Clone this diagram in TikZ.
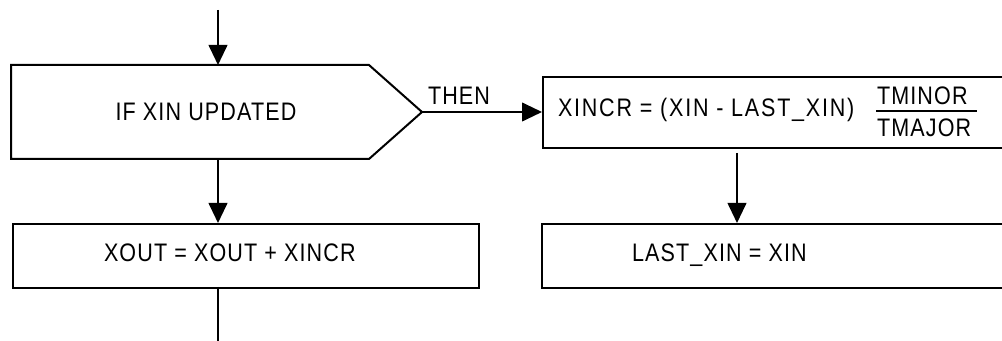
\documentclass[tikz,border=0pt]{standalone}
\usepackage{fontspec}
\setmainfont{Liberation Sans}[FakeStretch=0.85, LetterSpace=4.5]
\usetikzlibrary{arrows.meta,positioning,calc}

\begin{document}
\begin{tikzpicture}[x=0.75pt, y=-0.75pt, line width=1.5pt,
  font=\fontsize{19}{23}\selectfont,
  procbox/.style={draw, rectangle, inner sep=0pt, anchor=north west},
  lbl/.style={inner sep=0pt, anchor=base west},
  flow/.style={-{Triangle[length=15pt, width=14pt]}}]
\useasboundingbox (0,0) rectangle (1002,341);
% decision
\draw[line join=miter] (11,65) -- (369,65) -- (422,112) coordinate (dtip)
  -- (369,159) -- (11,159) -- cycle;
\coordinate (start) at (218,10);
\coordinate (dtop) at (218,65);
\coordinate (dbot) at (218,159);
\node[inner sep=0pt] (ifxin) at (206,112) {IF XIN UPDATED};
% boxes
\node[procbox, minimum width=352.5pt, minimum height=53.25pt] (xincr) at (542,76) {};
\node[procbox, minimum width=349.5pt, minimum height=48pt] (xout) at (12,223) {};
\node[procbox, minimum width=352.5pt, minimum height=48pt] (lastxin) at (541,223) {};
% texts
\node[lbl] (then) at (427,105) {THEN};
\node[lbl, font=\fontsize{19}{23}\selectfont\addfontfeature{LetterSpace=7}] (xincrtxt) at (557,117)
  {XINCR = (XIN - LAST\_XIN)};
\node[lbl] (tminor) at (876,105) {TMINOR};
\node[lbl] (tmajor) at (876,137) {TMAJOR};
\draw[line width=2pt] (876,111) coordinate (fbar) -- (977,111);
\node[lbl] (xouttxt) at (103,262) {XOUT = XOUT + XINCR};
\node[lbl] (lastxintxt) at (631,262) {LAST\_XIN = XIN};
% connectors
\coordinate (xincrout) at (737,147);
\coordinate (xoutbot) at (218,287);
\coordinate (exit) at (218,345);
\draw[flow] (start) -- (dtop);
\draw[flow] (dbot) -- (dbot |- xout.north);
\draw[flow] (dtip) -- (dtip -| xincr.west);
\draw[flow, shorten <=4.5pt] (xincrout) -- (xincrout |- lastxin.north);
\draw (xoutbot) -- (exit);
\end{tikzpicture}
\end{document}
